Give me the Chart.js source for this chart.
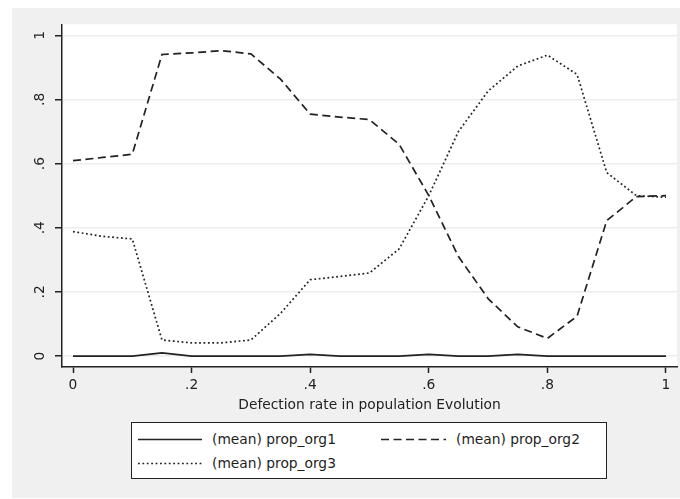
<!DOCTYPE html>
<html>
<head>
<meta charset="utf-8">
<script src="https://cdn.jsdelivr.net/npm/chart.js@4"></script>
<style>
  html, body { margin: 0; padding: 0; background: #fff; }
  body { width: 680px; height: 499px; position: relative; overflow: hidden; font-family: 'DejaVu Sans', sans-serif; }
  #panel { position: absolute; left: 12px; top: 8px; width: 668px; height: 490px; background: #f0f0f0; }
  #panel canvas { position: absolute; left: 0; top: 0; }
  #legend { position: absolute; left: 131px; top: 422px; width: 474px; height: 55px; background: #fff; border: 1.5px solid #222; }
  .item { position: absolute; height: 16px; font-size: 13.8px; line-height: 16px; color: #1e1e1e; white-space: nowrap; }
  .item svg { position: absolute; left: 0; top: 0; }
  .item span { position: absolute; top: 0; }
</style>
</head>
<body>
<div id="panel">
  <canvas id="lineChart" width="668" height="490"></canvas>
</div>
<div id="legend"></div>
<script>
// defection rate steps
const rates = [0, 0.05, 0.1, 0.15, 0.2, 0.25, 0.3, 0.35, 0.4, 0.45, 0.5,
               0.55, 0.6, 0.65, 0.7, 0.75, 0.8, 0.85, 0.9, 0.95, 1];

const propOrg1 = [0, 0, 0, 0.01, 0, 0, 0, 0, 0.005, 0, 0,
                  0, 0.005, 0, 0, 0.005, 0, 0, 0, 0, 0];
const propOrg2 = [0.609, 0.619, 0.629, 0.940, 0.945, 0.952, 0.942, 0.863, 0.754, 0.745, 0.737,
                  0.660, 0.500, 0.310, 0.179, 0.091, 0.055, 0.124, 0.422, 0.497, 0.500];
const propOrg3 = [0.388, 0.373, 0.365, 0.050, 0.041, 0.041, 0.050, 0.133, 0.238, 0.248, 0.259,
                  0.334, 0.500, 0.700, 0.826, 0.904, 0.938, 0.878, 0.572, 0.500, 0.495];

const seriesNames = ['(mean) prop_org1', '(mean) prop_org2', '(mean) prop_org3'];
const xTicks = [0, 0.2, 0.4, 0.6, 0.8, 1];
const yTicks = [0, 0.2, 0.4, 0.6, 0.8, 1];
const xTitle = 'Defection rate in population Evolution';

const ink = '#222';
const dashes = [[], [8, 4.5], [1.8, 2.6]];

function stataLabel(v) {
    if (v === 0 || v === 1) return String(v);
    return String(+v.toFixed(2)).replace(/^0/, '');
}

function toPoints(ys) {
    return rates.map((x, i) => ({ x: x, y: ys[i] }));
}

// white plot region on top of the grey background
const plotRegion = {
    id: 'plotRegion',
    beforeDraw(chart) {
        const a = chart.chartArea;
        const ctx = chart.ctx;
        ctx.save();
        ctx.fillStyle = '#fff';
        ctx.fillRect(a.left, a.top, a.right - a.left, a.bottom - a.top);
        ctx.restore();
    }
};

Chart.defaults.font.family = "'DejaVu Sans', sans-serif";
Chart.defaults.font.size = 13.8;
Chart.defaults.color = ink;

const ctx = document.getElementById('lineChart').getContext('2d');
window.myLineChart = new Chart(ctx, {
    type: 'line',
    data: {
        datasets: [propOrg1, propOrg2, propOrg3].map((ys, i) => ({
            label: seriesNames[i],
            data: toPoints(ys),
            borderColor: ink,
            borderWidth: 1.7,
            borderDash: dashes[i],
            pointRadius: 0,
            tension: 0,
            fill: false
        }))
    },
    options: {
        responsive: false,
        animation: false,
        layout: { padding: { left: 0, top: 15, right: 3, bottom: 74 } },
        plugins: {
            legend: { display: false },
            tooltip: { enabled: false }
        },
        scales: {
            x: {
                type: 'linear',
                min: -0.01855,
                max: 1.01855,
                afterBuildTicks: s => { s.ticks = xTicks.map(v => ({ value: v })); },
                afterFit: s => { s.height = 57; },
                grid: { drawOnChartArea: false, drawTicks: true, tickLength: 6, tickColor: ink, tickWidth: 1.5 },
                border: { display: true, color: ink, width: 1.5 },
                ticks: { padding: 4, maxRotation: 0, autoSkip: false, callback: v => stataLabel(v) },
                title: { display: true, text: xTitle, padding: { top: 0, bottom: 10 } }
            },
            y: {
                type: 'linear',
                min: -0.0342,
                max: 1.0342,
                afterBuildTicks: s => { s.ticks = yTicks.map(v => ({ value: v })); },
                afterFit: s => { s.width = 50; },
                grid: { color: '#ececec', lineWidth: 1.5, drawTicks: true, tickLength: 7, tickColor: ink, tickWidth: 1.5 },
                border: { display: true, color: ink, width: 1.5 },
                ticks: { padding: 8, minRotation: 90, maxRotation: 90, crossAlign: 'center', autoSkip: false, callback: v => stataLabel(v) }
            }
        }
    },
    plugins: [plotRegion]
});

// legend box below the axis title
const legendSlots = [
    { left: 6, top: 8, lineW: 64, gap: 10 },
    { left: 249, top: 8, lineW: 65, gap: 10 },
    { left: 6, top: 32, lineW: 64, gap: 10 }
];
const legendEl = document.getElementById('legend');
seriesNames.forEach((name, i) => {
    const s = legendSlots[i];
    const item = document.createElement('div');
    item.className = 'item';
    item.style.left = s.left + 'px';
    item.style.top = s.top + 'px';
    item.style.width = '240px';
    const dash = dashes[i].length ? ` stroke-dasharray="${dashes[i].join(' ')}"` : '';
    item.innerHTML =
        `<svg width="${s.lineW}" height="16"><line x1="0" y1="8.5" x2="${s.lineW}" y2="8.5" stroke="${ink}" stroke-width="1.5"${dash}/></svg>` +
        `<span style="left:${s.lineW + s.gap}px">${name}</span>`;
    legendEl.appendChild(item);
});
</script>
</body>
</html>
